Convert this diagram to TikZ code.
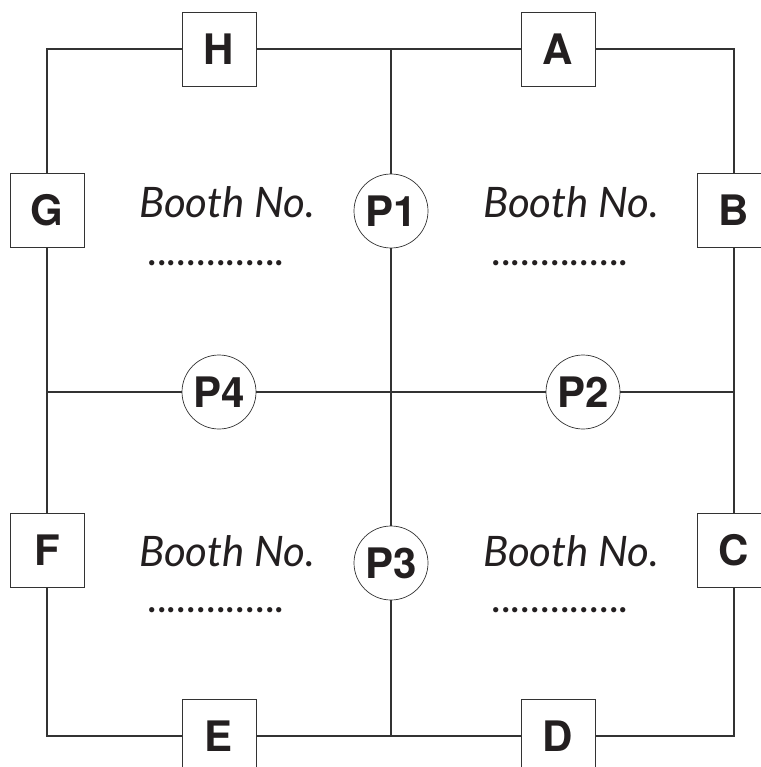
\documentclass[tikz,border=0pt]{standalone}
\usepackage{fontspec}
\newfontfamily\gatefont{TeX Gyre Heros}
\newfontfamily\boothfont{Lato}
\definecolor{LineGrey}{RGB}{51,51,51}
\definecolor{InkBlack}{RGB}{35,31,32}
\tikzset{
  gate/.style={draw=LineGrey, fill=white, line width=0.9pt, minimum size=74pt,
    inner sep=0pt, text=InkBlack, font=\gatefont\bfseries\fontsize{42}{42}\selectfont},
  post/.style={gate, circle, line width=0.7pt},
  booth/.style={anchor=base, text=InkBlack, inner sep=0pt,
    font=\boothfont\itshape\fontsize{42}{42}\selectfont},
  wire/.style={draw=LineGrey, line width=1.8pt}
}
\begin{document}
\begin{tikzpicture}[x=1pt, y=-1pt]
  \useasboundingbox (0,0) rectangle (760,767);
  \coordinate (top) at (391,49);
  \coordinate (bottom) at (391,736);
  \coordinate (left) at (47,392);
  \coordinate (right) at (734,392);
  \coordinate (centre) at (391,392);
  \node[gate] (H) at (219,49) {H};
  \node[gate] (A) at (558,49) {A};
  \node[gate] (G) at (47,210) {G};
  \node[gate] (B) at (734,210) {B};
  \node[gate] (F) at (47,550) {F};
  \node[gate] (C) at (734,550) {C};
  \node[gate] (E) at (219,736) {E};
  \node[gate] (D) at (558,736) {D};
  \node[post] (P1) at (391,211) {P1};
  \node[post] (P2) at (583,392) {P2};
  \node[post] (P3) at (391,563) {P3};
  \node[post] (P4) at (219,392) {P4};
  \draw[wire] (H) -| (G);
  \draw[wire] (H) -- (top) -- (A);
  \draw[wire] (A) -| (B);
  \draw[wire] (B) -- (C);
  \draw[wire] (C) |- (D);
  \draw[wire] (D) -- (bottom) -- (E);
  \draw[wire] (E) -| (F);
  \draw[wire] (F) -- (G);
  \draw[wire] (top) -- (P1) -- (centre) -- (P3) -- (bottom);
  \draw[wire] (left) -- (P4) -- (centre) -- (P2) -- (right);
  \node[booth] (boothTL) at (227,218) {Booth No.};
  \node[booth] (boothTR) at (571,218) {Booth No.};
  \node[booth] (boothBL) at (227,566) {Booth No.};
  \node[booth] (boothBR) at (571,566) {Booth No.};
  \node[booth] (dotsTL) at (217,265) {..............};
  \node[booth] (dotsTR) at (561,265) {..............};
  \node[booth] (dotsBL) at (217,612) {..............};
  \node[booth] (dotsBR) at (561,612) {..............};
\end{tikzpicture}
\end{document}
